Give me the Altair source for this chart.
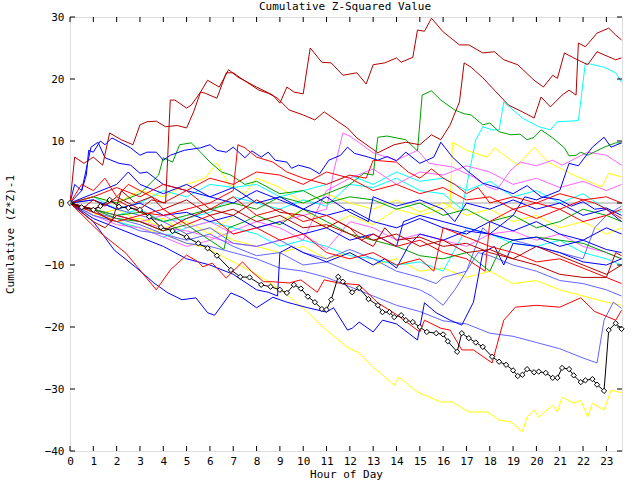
import altair as alt
import pandas as pd

# ---------------- data ----------------
H24 = list(range(24)) + [23.65]

DR1_H = [0, 0.2, 0.6, 1.0, 1.4, 1.7, 2.2, 2.7, 3.0, 3.3, 3.7, 4.1, 4.6, 5.0, 5.3, 5.6, 5.9, 6.4, 6.8, 7.2, 8.0, 8.7, 9.0, 9.3, 9.6, 10.0, 10.3, 10.8, 11.2, 11.7, 12.3, 12.7, 13.0, 13.5, 14.0, 14.2, 14.7, 14.9, 15.2, 15.5, 16.0, 16.7, 17.1, 17.7, 18.2, 18.6, 19.2, 19.9, 20.3, 20.7, 20.9, 21.2, 21.6, 22.2, 22.6, 22.9, 23.4, 23.65]
DR1_V = [0, 7.4, 6.4, 7.4, 6.1, 11.3, 10.2, 9.4, 12.6, 13.1, 13.2, 12.3, 12.5, 12.1, 14.7, 17.9, 19.8, 18.7, 21.5, 20.3, 18.7, 17.4, 16.1, 18.7, 17.9, 17.6, 25.0, 22.7, 22.6, 20.6, 21.0, 19.2, 22.3, 22.6, 23.4, 22.7, 23.5, 27.9, 27.7, 29.8, 27.6, 25.5, 25.5, 24.2, 24.4, 23.1, 22.3, 19.8, 18.7, 20.6, 20.1, 24.2, 23.4, 22.3, 24.4, 23.9, 23.1, 23.4]

DR2_H = [0, 0.5, 1.0, 1.5, 2.0, 2.5, 3.0, 3.5, 4.1, 4.3, 4.5, 5.0, 5.2, 5.6, 5.8, 6.3, 6.7, 7.0, 7.3, 8.1, 8.5, 8.9, 9.4, 10.0, 10.5, 10.9, 11.5, 11.9, 12.3, 12.9, 13.2, 13.9, 14.4, 15.0, 15.5, 15.9, 16.3, 16.7, 16.9, 17.2, 17.7, 18.2, 18.8, 19.4, 19.9, 20.2, 20.6, 21.1, 21.4, 21.7, 21.8, 22.1, 22.6, 23.1, 23.4, 23.65]
DR2_V = [0, -1.0, 0.5, -0.5, 1.0, 0.0, -1.0, 0.5, 0.0, 16.6, 16.6, 15.3, 15.8, 17.9, 17.7, 16.9, 21.0, 21.0, 20.2, 18.2, 17.7, 16.9, 15.0, 14.2, 13.4, 14.7, 13.1, 12.1, 10.5, 8.9, 8.1, 9.4, 9.8, 9.4, 11.0, 10.2, 12.6, 16.3, 22.6, 21.9, 20.2, 18.2, 15.8, 14.7, 13.7, 17.1, 15.5, 17.4, 18.2, 17.4, 25.8, 25.2, 27.4, 28.2, 27.1, 26.3]

DR3_H = [0, 0.5, 1, 1.5, 2, 3, 4, 5, 6, 7, 8, 9, 10, 11, 11.5, 12, 13, 14, 15, 16, 17, 18, 19, 20, 21, 22, 23, 23.4, 23.65]
DR3_V = [0, -1.5, -3, -4, -2, -3, -4.5, -2.5, -1, -2, 0.5, -1.5, -2, -4, -3, -4, -6, -5, -7, -6, -8, -7.5, -9, -10, -11.5, -12, -12, -8, -8.5]

DR4_H = [0, 1, 1.8, 2.2, 2.8, 3.5, 4, 5, 6, 7, 8, 9, 10, 11, 12, 13, 13.5, 14, 15, 16, 17, 18, 19, 20, 21, 22, 23, 23.65]
DR4_V = [0, -1, -3, 2, 0, 1, -1, 0.5, -2, -1, -3, -2, -4, -3.5, -5, -7, -4, -6, -5.5, -7, -6.5, -8, -9, -7, -8.5, -10, -11.5, -10]

R1_H = [0, 1.3, 2.4, 3.7, 4.3, 5.0, 5.5, 5.7, 6.1, 6.7, 7.4, 7.8, 8.3, 8.7, 9.4, 9.9, 10.6, 10.9, 11.5, 12.4, 13.2, 14.0, 15.0, 15.2, 15.9, 16.3, 16.8, 17.3, 18.1, 18.6, 19.1, 20.0, 21.0, 21.9, 22.5, 23.4, 23.65]
R1_V = [0, -4.8, -8.1, -14.0, -10.8, -8.4, -9.5, -10.3, -9.7, -12.1, -9.5, -11.1, -12.7, -12.7, -12.9, -12.4, -14.4, -12.4, -12.9, -13.2, -16.1, -18.0, -20.8, -18.9, -20.2, -20.5, -23.7, -23.7, -25.8, -18.9, -16.8, -16.5, -16.8, -15.3, -17.5, -18.9, -17.3]

R2_H = [0, 1, 2, 3, 4, 5, 6, 7.0, 7.2, 7.5, 8.0, 8.7, 9.3, 10, 11, 12, 12.7, 13, 14, 14.5, 15, 15.5, 16, 16.5, 17, 17.5, 18, 19, 20, 20.5, 21, 22, 22.5, 23, 23.65]
R2_V = [0, -1, 0.5, -1.5, -2, -1, 0, 2, 9.4, 8.9, 7.4, 6.6, 5.0, 4.0, 3.0, 4.5, 4.0, 6.9, 6.6, 5.0, 4.0, 5.5, 4.0, 3.0, 1.5, 2.5, 0, 1, 0, -0.5, -1, 0.5, 0, -1, -2.5]

R3_H = [0, 0.5, 1, 1.5, 2, 2.5, 3, 4, 5, 6, 7, 8, 9, 10, 11, 12, 12.5, 13, 14, 15, 16, 17, 17.8, 18, 18.5, 19, 20, 21, 22, 23, 23.65]
R3_V = [0, 3, 2, 4, 1, 3, 2, 0, 2, -1, 1, -2, -1, -3, -2, -4, -6, -5, -7, -6, -8, -9, -11, -3, -2, -1, -2.5, -1, -3, -2, -1]

R4_H = [0, 1, 2, 3, 4, 5, 6, 7, 8, 9, 10, 11, 12, 13, 14, 15, 15.6, 16, 17, 18, 19, 20, 21, 22, 23, 23.65]
R4_V = [0, -1.5, -3, -2, -1, -3.5, -2, -5, -4, -6, -5, -8, -9, -8, -10, -9, -11, -4, -5.5, -7, -8, -9.5, -9, -10.5, -12, -13]

R5_V = [0, 1, 2.5, 1, 3, 2, 4, 3, 5, 4.5, 3, 5, 4, 2, 3, 1.5, 2.5, 0.5, 1, -1, 0, 1.5, 0.5, 1, 0]

B1_H = [0, 0.2, 0.5, 0.7, 0.8, 1.0, 1.3, 1.5, 1.8, 2.6, 3.0, 3.3, 3.7, 4.0, 4.3, 4.9, 5.6, 6.0, 6.3, 6.7, 7.0, 7.5, 7.8, 8.2, 8.5, 8.8, 9.3, 9.5, 9.8, 10.3, 10.7, 11.1, 11.6, 11.9, 12.2, 12.8, 13.2, 13.6, 14.0, 14.4, 15.0, 15.6, 15.9, 16.4, 17.0, 17.7, 18.3, 19.0, 19.6, 20.2, 21.0, 21.5, 22.0, 22.5, 23.0, 23.65]
B1_V = [0, 3, 2, 4.5, 8.5, 8.2, 10, 9.4, 10.5, 8.9, 7.7, 8.2, 8.2, 6.9, 7.7, 8.5, 8.9, 9.4, 8.5, 8.2, 9.0, 7.3, 8.4, 7.4, 8.2, 6.9, 6.6, 5.6, 6.1, 5.6, 4.7, 6.9, 7.7, 9.0, 8.0, 7.4, 6.9, 7.5, 6.8, 8.2, 6.4, 7.4, 9.8, 7.4, 5.3, 3.2, 2.5, 1.5, 2.8, 1.0, 0.5, -0.5, 0.2, -1.0, -0.8, -2.0]

B2_H = [0, 0.5, 0.9, 1.2, 1.5, 2.1, 2.6, 3.0, 3.3, 4, 5, 6, 7, 8, 9, 10, 11, 12, 13, 14, 15, 16, 17, 18, 19, 20, 21, 22, 23, 23.65]
B2_V = [0, 2, 9, 9.8, 7.3, 6.4, 6.1, 4.8, 5, 3, 2, 1, 2.5, 0, 1, -1, -2, -1, -3, -4, -2.5, -4, -5, -3, -4.5, -3, -5, -6, -4, -5]

B3_H = [0, 1, 1.9, 2.8, 3.6, 4.2, 4.8, 5.4, 5.9, 6.2, 6.9, 7.4, 8.0, 8.7, 9.3, 10.2, 11.0, 11.3, 11.9, 12.1, 12.4, 13.0, 13.4, 14.0, 14.9, 15.2, 15.7, 16.3, 16.8, 17.3, 17.7, 18.2, 18.6, 19, 20, 21, 22, 23, 23.65]
B3_V = [0, -3, -7.6, -10.3, -12.9, -14.5, -15.6, -15.3, -17.7, -18.1, -14.5, -15.3, -16.9, -15.2, -16.0, -16.9, -17.6, -16.9, -20.5, -20.2, -19.2, -20.8, -18.9, -19.5, -22.1, -16.1, -17.7, -18.9, -19.7, -16.0, -8.0, -7.0, -10.0, -6.5, -7, -8, -9.5, -10, -9]

B4_H = [0, 1, 2, 3, 4, 5, 6, 7, 8, 8.5, 8.9, 9.0, 9.5, 10, 11, 12, 13, 13.5, 14, 14.5, 15, 16, 17, 18, 19, 20, 21, 22, 23, 23.65]
B4_V = [0, -2.5, -4, -5.5, -7, -9, -10, -11.5, -14, -14.4, -15, -8, -7, -8, -9.5, -8, -10, -9, -10.5, -7, -5, -6, -4.5, -5, -6, -5.5, -7, -6, -7.5, -8]

B5_H = [0, 1, 2, 3, 4, 5, 6, 7, 8, 9, 10, 11, 12, 13, 14, 14.3, 15, 16, 17, 18, 19, 19.5, 20, 21, 21.4, 21.8, 22.4, 22.9, 23.2, 23.65]
B5_V = [0, 0.5, -1, 0, -2, -1.5, -3, -2, -4, -3, -5, -4, -6, -5, -7, -3, -2, -3, -4, -5, -2, 1, 0.5, 2, 6.4, 6.0, 9.0, 10.6, 9.0, 9.7]

B6_H = [0, 1, 2, 2.5, 3, 4, 5, 6, 7, 8, 9, 10, 11, 12, 12.8, 13, 14, 15, 16, 16.5, 17, 18, 19, 20, 21, 22, 23, 23.65]
B6_V = [0, 1.5, 3, 5, 3, 1.5, 3, 1, 0, 2, 0.5, -1, 1, -1.5, -3, 1, -0.5, 0.5, -1, -3, 0, -1, 0.5, -1, 0, -2, -1, -3]

S1_H = list(range(23)) + [22.6, 22.9, 23.3, 23.65]
S1_V = [0, -2, -3, -4.5, -5, -6.5, -7, -8, -9, -10.5, -11, -12, -13.5, -15, -16.5, -17.5, -19, -19.5, -21, -21.5, -22.5, -23.5, -25, -25.8, -18.9, -16, -17]

S2_H = list(range(16)) + [15.5, 16, 16.5, 17, 17.5, 18, 19, 20, 21, 22, 23, 23.65]
S2_V = [0, -1.5, -2.5, -3.5, -5, -6, -5, -7, -8.5, -8, -10, -9.5, -11, -12, -13, -14, -15, -16.5, -14, -11, -8, -8.5, -10, -11, -12.5, -13, -14, -15]

S3_H = list(range(16)) + [15.7, 16, 17, 17.7, 18, 19, 20, 21, 22, 22.5, 23, 23.65]
S3_V = [0, 0.5, -1, -2, -3, -5, -4, -6.5, -7, -6, -8, -9, -7.5, -9, -11, -12, -13, -12, -11, -4, -5, -6, -7, -8, -9, -4, -2, -0.5]

G1_H = [0, 1, 2, 3, 4, 5, 6, 7, 8, 9, 10, 11, 12, 12.6, 13.0, 13.2, 13.6, 14.4, 14.9, 15.1, 15.5, 15.9, 16.5, 16.9, 17.2, 17.7, 18.0, 18.4, 18.9, 19.3, 19.6, 19.9, 20.2, 20.7, 21.2, 21.4, 21.7, 21.9, 22.2, 22.9, 23.4, 23.65]
G1_V = [0, -1, -2, -1.5, -3, -2, -1, 0, -1, 1, 0, 1.5, 3, 4.8, 4.5, 10.6, 10.8, 10.2, 8.4, 17.4, 18.1, 16.6, 15.0, 14.4, 14.2, 12.6, 12.9, 11.5, 11.0, 11.1, 10.2, 10.6, 11.8, 10.5, 8.9, 7.6, 7.7, 8.2, 7.7, 9.0, 9.7, 9.7]

G2_H = [0, 1, 2, 3, 3.8, 4.0, 4.4, 4.7, 5.2, 5.6, 6.0, 6.5, 6.9, 7.5, 8, 9, 10, 11, 12, 13, 14, 15, 16, 17, 18, 19, 20, 21, 22, 23, 23.65]
G2_V = [0, 1, 0, 1.5, 4.5, 7.3, 6.6, 9.4, 9.7, 8.2, 6.6, 5.0, 4.5, 3.0, 3.5, 1.5, 2, 0, 1, 0.5, -1, 0, -2, -1, -3, -2, -4, -3, -1, -2, -3]

G3_H = [0, 1, 2, 3, 4, 5, 6, 6.6, 6.8, 7.5, 8, 9, 10, 11, 12, 13, 14, 15, 16, 17, 18, 18.5, 19, 20, 21, 22, 23, 23.65]
G3_V = [0, -1, -2.5, -3, -4.5, -3.5, -6, -7.5, -4, -3, -2, -3.5, -1, -3, -5, -6, -7, -8.5, -9, -8, -11, -7, -6, -5.5, -6, -6.5, -8, -9]

C1_H = list(range(17)) + [16.8, 17.0, 17.4, 17.7, 18.1, 18.4, 18.6, 19.4, 20.1, 20.6, 20.9, 21.4, 21.8, 22.1, 22.9, 23.4, 23.65]
C1_V = [0, -1, -2, -1, -3, -2.5, -1.5, 1, 0, -1, 0.5, -0.5, 3, 2.5, 4, 2, 1.5, -1, 2.6, 10.2, 12.3, 11.8, 11.8, 16.3, 13.7, 12.3, 11.8, 13.1, 13.2, 13.3, 22.6, 21.9, 21.0, 19.5]
C2_V = [0, -2, -3, -4, -5.5, -4, -3, -4, -5, -7, -6, -7, -8.5, -9, -10, -9.5, -11, -4, -5, -6.5, -7, -6, -8, -9, -10]
C3_V = [0, 1, -1, 0, 2, 1, 3, 2.5, 3, 1, 2, 3, 4.5, 3, 5, 3.5, 4, 2, 3.5, 1, 2, 0, 1.5, -1, -1.5]

M1_H = list(range(12)) + [11.3, 11.7, 12.0, 13.0, 14.0, 14.9, 15.4, 16.4, 17.3, 17.9, 18.3, 18.9, 19.3, 20.0, 20.7, 21.1, 22.2, 23.0, 23.65]
M1_V = [0, -1, -2, -3, -2, -4, -3, -5, -4, -3, -2, -1, 5.0, 11.3, 10.8, 8.1, 6.9, 8.5, 6.4, 5.8, 4.2, 2.6, 2.1, 5.3, 6.6, 6.0, 6.9, 6.1, 8.2, 7.7, 6.1]
M2_V = [0, -2, -3.5, -4, -5.5, -7, -6, -4.5, -3, -4, -6, 2, 4, 5.5, 3, 5, 4.5, 6, 5, 3, 4, 2.5, 3.5, 2, 3]
M3_V = [0, -1, -2, -3, -4, -4.5, -5.5, -6.5, -7, -6, -5, -7.5, -3, -4, -6, -5, -6, -7, -5, -4.5, -6, -5, -7, -8, -9]

Y1_H = [0, 1, 2, 3, 4, 5, 5.8, 7, 8, 8.7, 9.3, 10.1, 11, 11.9, 12.4, 13.0, 13.4, 13.9, 14.1, 14.9, 15.9, 16.4, 17.1, 17.9, 18.4, 18.9, 19.4, 19.6, 19.9, 20.1, 20.7, 20.9, 21.1, 21.6, 21.9, 22.2, 22.4, 22.9, 23.2, 23.65]
Y1_V = [0, -1.5, -3, -4, -5, -6.5, -7.1, -9.5, -11.5, -13.2, -14.8, -17.3, -20.5, -23.3, -24.2, -26.5, -27.7, -29.4, -28.1, -30.5, -32.1, -32.1, -33.7, -33.7, -35.0, -35.3, -36.9, -34.5, -33.4, -34.5, -32.6, -33.7, -31.3, -32.3, -31.8, -34.5, -32.3, -33.4, -30.2, -30.6]

Y2_H = list(range(17)) + [16.3, 16.4, 17.0, 17.9, 18.2, 19.2, 19.9, 20.5, 21.6, 22.8, 23.1, 23.65]
Y2_V = [0, -1.5, -3, -2.5, -4, -3, -5, -2, -4, -3, -1, -4, -2, -3.5, -1, -2, -1, -0.5, 9.8, 8.5, 7.4, 8.9, 6.1, 9.0, 6.6, 4.5, 2.6, 4.8, 4.2]
Y3_V = [0, -2, -1, -3, -2.5, -5, -4, -6, -7, -8, -7, -9, -8, -10, -9, -11, -10.5, -12, -11, -13, -12.5, -14, -15, -16, -16.5]
Y4_H = [0, 1, 2, 3, 4, 5, 5.8, 6.3, 6.8, 7.5, 8, 9, 10, 11, 12, 13, 14, 15, 16, 17, 18, 19, 20, 21, 22, 23, 23.65]
Y4_V = [0, 1, 0, 2, 1, 3, 4, 6.5, 3, 1.5, 4, 2.5, 0, 1.5, 0, -1, 0.5, -1.5, 0, -2, -1, -3, -2, -4, -3, -5, -4]

BLK_H = [0, 0.5, 1.0, 1.3, 1.7, 2.1, 2.5, 3.0, 3.4, 3.9, 4.4, 5.0, 5.5, 5.9, 6.3, 6.9, 7.3, 7.7, 8.2, 8.6, 9.0, 9.3, 9.6, 9.9, 10.2, 10.5, 10.8, 11.0, 11.2, 11.5, 11.7, 12.1, 12.4, 12.8, 13.2, 13.4, 13.7, 13.9, 14.2, 14.4, 14.7, 15.0, 15.3, 15.7, 16.0, 16.2, 16.6, 16.8, 17.1, 17.4, 17.7, 18.1, 18.4, 18.7, 19.0, 19.2, 19.4, 19.6, 19.9, 20.1, 20.4, 20.7, 20.9, 21.1, 21.4, 21.6, 21.9, 22.1, 22.4, 22.6, 22.9, 23.1, 23.4, 23.65]
BLK_V = [0, -0.7, -1.1, -0.5, 0.5, -0.6, -0.8, -1.1, -2.2, -3.9, -4.5, -5.5, -6.5, -7.3, -8.5, -10.8, -11.9, -12.0, -13.2, -13.5, -14.0, -14.5, -13.2, -13.8, -15.1, -16.0, -17.1, -17.2, -15.6, -11.9, -12.7, -14.4, -13.7, -15.5, -16.5, -17.6, -17.6, -18.4, -18.1, -18.9, -19.2, -20.0, -20.8, -21.0, -21.2, -22.3, -24.0, -21.0, -21.8, -22.5, -23.2, -24.8, -25.6, -26.1, -27.0, -27.9, -27.7, -26.8, -27.3, -27.2, -27.4, -28.2, -28.2, -26.6, -26.8, -27.8, -28.9, -28.6, -28.4, -29.3, -30.3, -20.5, -19.4, -20.3]

X_TICKS = list(range(24))
Y_TICKS = [-40, -30, -20, -10, 0, 10, 20, 30]
TITLE = ["Cumulative Z-Squared Value"]

DARKRED, RED, BLUE, SLATE = "#b40000", "#ff0000", "#0000ff", "#6464ff"
GREEN, CYAN, MAGENTA, YELLOW = "#00a000", "#00ffff", "#ff64ff", "#ffff00"

SERIES = [
    ("y1", YELLOW, Y1_H, Y1_V), ("y2", YELLOW, Y2_H, Y2_V), ("y3", YELLOW, H24, Y3_V), ("y4", YELLOW, Y4_H, Y4_V),
    ("c1", CYAN, C1_H, C1_V), ("c2", CYAN, H24, C2_V), ("c3", CYAN, H24, C3_V),
    ("m1", MAGENTA, M1_H, M1_V), ("m2", MAGENTA, H24, M2_V), ("m3", MAGENTA, H24, M3_V),
    ("s1", SLATE, S1_H, S1_V), ("s2", SLATE, S2_H, S2_V), ("s3", SLATE, S3_H, S3_V),
    ("g1", GREEN, G1_H, G1_V), ("g2", GREEN, G2_H, G2_V), ("g3", GREEN, G3_H, G3_V),
    ("b1", BLUE, B1_H, B1_V), ("b2", BLUE, B2_H, B2_V), ("b3", BLUE, B3_H, B3_V),
    ("b4", BLUE, B4_H, B4_V), ("b5", BLUE, B5_H, B5_V), ("b6", BLUE, B6_H, B6_V),
    ("r1", RED, R1_H, R1_V), ("r2", RED, R2_H, R2_V), ("r3", RED, R3_H, R3_V),
    ("r4", RED, R4_H, R4_V), ("r5", RED, H24, R5_V),
    ("d1", DARKRED, DR1_H, DR1_V), ("d2", DARKRED, DR2_H, DR2_V),
    ("d3", DARKRED, DR3_H, DR3_V), ("d4", DARKRED, DR4_H, DR4_V),
]

rows = []
for k, (name, color, hs, vs) in enumerate(SERIES):
    for i, (h, v) in enumerate(zip(hs, vs)):
        rows.append({"s": f"{k:02d}_{name}", "h": h, "v": v, "i": i})
df = pd.DataFrame(rows)
names = [f"{k:02d}_{s[0]}" for k, s in enumerate(SERIES)]
colors = [s[1] for s in SERIES]

blk = pd.DataFrame({"h": BLK_H, "v": BLK_V, "i": list(range(len(BLK_H)))})

W, HT = 552, 434
FONT = "DejaVu Sans Mono"
xs = alt.Scale(domain=[0, 23.67], nice=False, zero=False)
ys = alt.Scale(domain=[-40, 30], nice=False, zero=False)

x_axis = alt.Axis(values=X_TICKS, title="Hour of Day", tickSize=0, domain=False, grid=False,
                  labelPadding=4, titlePadding=2, format="d", labelFlush=False, labelOverlap=False,
                  titleFontWeight="normal", labelFont=FONT, titleFont=FONT, labelFontSize=11,
                  titleFontSize=11, labelColor="black", titleColor="black")
y_axis = alt.Axis(values=Y_TICKS, title="Cumulative (Z*Z)-1", tickSize=0, domain=False, grid=False,
                  labelPadding=6, titlePadding=29, format="d", labelOverlap=False,
                  titleFontWeight="normal", labelFont=FONT, titleFont=FONT, labelFontSize=11,
                  titleFontSize=11, labelColor="black", titleColor="black")

X = alt.X("h:Q", scale=xs, axis=x_axis)
Y = alt.Y("v:Q", scale=ys, axis=y_axis)

zero = alt.Chart(pd.DataFrame({"h": [0.0], "h2": [23.67], "v": [0]})).mark_rule(
    color="#a0a0a0", strokeWidth=1).encode(x=X, x2="h2:Q", y=Y)

lines = alt.Chart(df).mark_line(strokeWidth=1, clip=True).encode(
    x=X, y=Y,
    color=alt.Color("s:N", scale=alt.Scale(domain=names, range=colors), legend=None),
    order=alt.Order("i:Q"))

blk_line = alt.Chart(blk).mark_line(strokeWidth=1, color="black").encode(x=X, y=Y, order=alt.Order("i:Q"))
blk_pts = alt.Chart(blk).mark_point(shape="diamond", size=28, filled=True, fill="white",
                                     stroke="black", strokeWidth=1, opacity=1).encode(x=X, y=Y)

xt = pd.DataFrame({"h": X_TICKS})
yt = pd.DataFrame({"v": Y_TICKS})
tb = alt.Chart(xt).mark_rule(color="black").encode(x=X, y=alt.value(HT), y2=alt.value(HT - 5))
tt = alt.Chart(xt).mark_rule(color="black").encode(x=X, y=alt.value(0), y2=alt.value(5))
tl = alt.Chart(yt).mark_rule(color="black").encode(y=Y, x=alt.value(0), x2=alt.value(5))
tr = alt.Chart(yt).mark_rule(color="black").encode(y=Y, x=alt.value(W - 5), x2=alt.value(W))

title = alt.Chart(pd.DataFrame({"t": TITLE})).mark_text(
    font=FONT, fontSize=11, color="black", align="center", baseline="alphabetic", clip=False
).encode(text="t:N", x=alt.value(W / 2 - 1), y=alt.value(-7))

chart = alt.layer(zero, lines, blk_line, blk_pts, tb, tt, tl, tr, title).properties(
    width=W, height=HT,
    autosize=alt.AutoSizeParams(type="none"),
    padding={"left": 70, "top": 17, "right": 18, "bottom": 29},
).configure_view(stroke="black", strokeWidth=2).configure(background="white")

chart.save("out.html", embed_options={"renderer": "svg", "actions": False})
